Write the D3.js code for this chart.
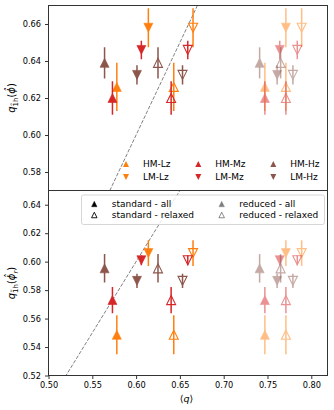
<!DOCTYPE html>
<html>
<head>
<meta charset="utf-8">
<script src="https://cdn.jsdelivr.net/npm/d3@7"></script>
<style>
  body { margin: 0; background: white; }
  text { font-family: "DejaVu Sans", sans-serif; }
</style>
</head>
<body>
<script>
//Data
const series = ['HM-Lz', 'LM-Lz', 'HM-Mz', 'LM-Mz', 'HM-Hz', 'LM-Hz']
const qStandardAll = [0.578, 0.614, 0.573, 0.606, 0.564, 0.601]
const qStandardRelaxed = [0.643, 0.665, 0.640, 0.659, 0.625, 0.653]
const qReducedAll = [0.747, 0.771, 0.747, 0.764, 0.741, 0.761]
const qReducedRelaxed = [0.771, 0.789, 0.771, 0.784, 0.765, 0.779]
//top panel: q_1h(phi hat)
const q1hPhi = [0.626, 0.658, 0.620, 0.646, 0.639, 0.6325]
const q1hPhiErr = [0.013, 0.0105, 0.009, 0.005, 0.0084, 0.0052]
//bottom panel: q_1h(phi hat r)
const q1hPhiR = [0.5486, 0.606, 0.573, 0.601, 0.5953, 0.5865]
const q1hPhiRErr = [0.0137, 0.009, 0.0092, 0.0035, 0.010, 0.005]
//tick labels
const xTicks = [0.50, 0.55, 0.60, 0.65, 0.70, 0.75, 0.80]
const yTicksTop = [0.58, 0.60, 0.62, 0.64, 0.66]
const yTicksBottom = [0.52, 0.54, 0.56, 0.58, 0.60, 0.62, 0.64]
const variants = ['standard - all', 'standard - relaxed', 'reduced - all', 'reduced - relaxed']

var width = 334
var height = 410

const colorScale = d3.scaleOrdinal()
    .domain(['Lz', 'Mz', 'Hz'])
    .range(['#ff7f0e', '#d62728', '#8c564b'])

const svg = d3.select('body')
    .append('svg')
    .attr('width', width)
    .attr('height', height)

const left = 48.5, right = 327.5
const xScale = d3.scaleLinear().domain([0.5, 0.8185]).range([left, right])
const yTop = d3.scaleLinear().domain([0.570, 0.670]).range([190.5, 5.5])
const yBottom = d3.scaleLinear().domain([0.52, 0.650]).range([375.5, 190.5])

//triangle path, bbox centered like matplotlib '^' / 'v'
const tri = (s, up) => up
    ? `M0,${-s / 2}L${s / 2},${s / 2}L${-s / 2},${s / 2}Z`
    : `M0,${s / 2}L${s / 2},${-s / 2}L${-s / 2},${-s / 2}Z`

const fmt = d3.format('.2f')

function panel(id, yScale, vals, errs, yTicks, showX) {
    const [y0, y1] = yScale.range()
    svg.append('clipPath').attr('id', id)
        .append('rect').attr('x', left).attr('y', y1).attr('width', right - left).attr('height', y0 - y1)

    const g = svg.append('g')

    //axes
    const yAxis = g.append('g').attr('transform', 'translate(' + left + ',0)')
        .call(d3.axisLeft(yScale).tickValues(yTicks).tickFormat(fmt).tickSize(3.5).tickPadding(4))
    yAxis.select('.domain').remove()
    if (showX) {
        const xAxis = g.append('g').attr('transform', 'translate(0,' + y0 + ')')
            .call(d3.axisBottom(xScale).tickValues(xTicks).tickFormat(fmt).tickSize(3.5).tickPadding(3))
        xAxis.select('.domain').remove()
    }
    g.selectAll('.tick text').attr('font-size', '8.2px').attr('font-family', 'DejaVu Sans').attr('fill', '#000')
    g.selectAll('.tick line').attr('stroke', '#000').attr('stroke-width', 0.8)

    const plot = g.append('g').attr('clip-path', 'url(#' + id + ')')

    //y = x reference line
    plot.append('line')
        .attr('x1', xScale(0.5)).attr('y1', yScale(0.5))
        .attr('x2', xScale(0.82)).attr('y2', yScale(0.82))
        .attr('stroke', 'gray').attr('stroke-width', 1).attr('stroke-dasharray', '3.7,1.6')

    const points = []
    const qs = [qStandardAll, qStandardRelaxed, qReducedAll, qReducedRelaxed]
    qs.forEach((q, v) => {
        series.forEach((s, i) => {
            points.push({
                q: q[i], val: vals[i], err: errs[i],
                color: colorScale(s.slice(3)), up: s.startsWith('HM'),
                open: v % 2 === 1, alpha: v >= 2 ? 0.5 : 1
            })
        })
    })

    const pts = plot.selectAll('g.pt').data(points).enter().append('g')
        .attr('class', 'pt')
        .attr('opacity', d => d.alpha)
    pts.append('line')
        .attr('x1', d => xScale(d.q)).attr('x2', d => xScale(d.q))
        .attr('y1', d => yScale(d.val - d.err)).attr('y2', d => yScale(d.val + d.err))
        .attr('stroke', d => d.color).attr('stroke-width', 1.5)
    pts.append('path')
        .attr('d', d => tri(9, d.up))
        .attr('transform', d => 'translate(' + xScale(d.q) + ',' + yScale(d.val) + ')')
        .attr('fill', d => d.open ? 'none' : d.color)
        .attr('stroke', d => d.color)
        .attr('stroke-width', d => d.open ? 1.1 : 0.6)

    //frame
    g.append('rect').attr('x', left).attr('y', y1).attr('width', right - left).attr('height', y0 - y1)
        .attr('fill', 'none').attr('stroke', '#333').attr('stroke-width', 1)
    return g
}

panel('clipTop', yTop, q1hPhi, q1hPhiErr, yTicksTop, false)
panel('clipBottom', yBottom, q1hPhiR, q1hPhiRErr, yTicksBottom, true)

//y labels
function yLabel(cy, sub) {
    const t = svg.append('text')
        .attr('transform', 'translate(15,' + cy + ') rotate(-90)')
        .attr('text-anchor', 'middle')
        .attr('font-size', '10px')
    t.append('tspan').attr('font-style', 'italic').text('q')
    t.append('tspan').attr('font-size', '7px').attr('dy', 2.5).text('1\u0303h')
    t.append('tspan').attr('dy', -2.5).text('(')
    t.append('tspan').attr('font-style', 'italic').text('\u03d5\u0302')
    if (sub) t.append('tspan').attr('font-size', '7px').attr('font-style', 'italic').attr('dy', 2.5).text(sub)
    t.append('tspan').attr('dy', sub ? -2.5 : 0).text(')')
}
yLabel(98, null)
yLabel(283, 'r')

//x label
const xl = svg.append('text').attr('x', 186.5).attr('y', 402).attr('text-anchor', 'middle').attr('font-size', '9.5px')
xl.append('tspan').text('\u27e8')
xl.append('tspan').attr('font-style', 'italic').text('q')
xl.append('tspan').text('\u27e9')

//series legend (top panel, no frame)
const legCols = [126, 198.3, 273.3]
const legRows = [164, 177]
const leg1 = svg.append('g')
series.forEach((s, i) => {
    const cx = legCols[Math.floor(i / 2)], cy = legRows[i % 2]
    leg1.append('path').attr('d', tri(6, s.startsWith('HM')))
        .attr('transform', 'translate(' + cx + ',' + cy + ')')
        .attr('fill', colorScale(s.slice(3)))
    leg1.append('text').attr('x', cx + 17).attr('y', cy + 3.3)
        .attr('font-size', '9px').text(s)
})

//variant legend (bottom panel, framed)
const leg2 = svg.append('g')
leg2.append('rect').attr('x', 81.5).attr('y', 195).attr('width', 243).attr('height', 29.5)
    .attr('rx', 2).attr('fill', 'white').attr('fill-opacity', 0.8)
    .attr('stroke', '#ccc').attr('stroke-width', 0.8)
const leg2Cols = [94.3, 221.7]
const leg2Rows = [204, 215]
variants.forEach((v, i) => {
    const cx = leg2Cols[Math.floor(i / 2)], cy = leg2Rows[i % 2]
    const open = i % 2 === 1
    leg2.append('path').attr('d', tri(5.5, true))
        .attr('transform', 'translate(' + cx + ',' + cy + ')')
        .attr('opacity', i >= 2 ? 0.5 : 1)
        .attr('fill', open ? 'none' : 'black')
        .attr('stroke', 'black').attr('stroke-width', open ? 0.9 : 0.4)
    leg2.append('text').attr('x', cx + 17.5).attr('y', cy + 3.3)
        .attr('font-size', '9px').text(v)
})
</script>
</body>
</html>
